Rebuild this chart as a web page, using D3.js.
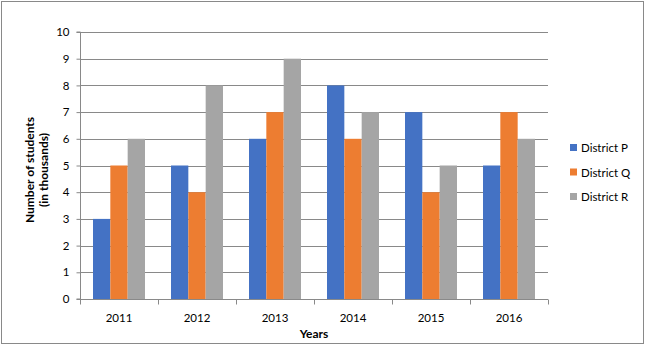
<!DOCTYPE html>
<html><head><meta charset="utf-8">
<script src="https://cdn.jsdelivr.net/npm/d3@7"></script>
<style>body{margin:0;background:#fff}svg{display:block}</style>
</head><body>
<script>
const years = ["2011","2012","2013","2014","2015","2016"];
const seriesNames = ["District P","District Q","District R"];
const districtP = [3,5,6,8,7,5];
const districtQ = [5,4,7,6,4,7];
const districtR = [6,8,9,7,5,6];
const yTicks = [0,1,2,3,4,5,6,7,8,9,10];
const colors = ["#4472C4","#ED7D31","#A5A5A5"];

const W=646,H=347;
const svg=d3.select("body").append("svg").attr("width",W).attr("height",H);
svg.append("rect").attr("x",1.5).attr("y",1.5).attr("width",W-4).attr("height",H-5)
  .attr("fill","#fff").attr("stroke","#898989").attr("stroke-width",1);

const pL=80,pR=548,pT=32,pB=299;
const x=d3.scaleBand().domain(years).range([pL,pR]);
const xi=d3.scaleBand().domain(seriesNames).range([0,x.bandwidth()]).paddingInner(0).paddingOuter(0.75);
const y=d3.scaleLinear().domain([0,10]).range([pB,pT]);
const font="Lato, 'Open Sans', sans-serif";

// gridlines
svg.append("g").selectAll("line").data(yTicks.filter(d=>d>0)).join("line")
  .attr("x1",pL).attr("x2",pR).attr("y1",d=>Math.round(y(d))+0.5).attr("y2",d=>Math.round(y(d))+0.5)
  .attr("stroke","#898989");

const data=[districtP,districtQ,districtR];
const g=svg.append("g");
years.forEach((yr,i)=>{
  seriesNames.forEach((s,j)=>{
    g.append("rect").attr("x",x(yr)+xi(s)).attr("width",xi.bandwidth())
      .attr("y",y(data[j][i])).attr("height",pB-y(data[j][i])).attr("fill",colors[j]);
  });
});

// y axis
const ya=svg.append("g").attr("transform",`translate(${pL+0.5},0)`)
  .call(d3.axisLeft(y).tickValues(yTicks).tickSize(4).tickPadding(7).tickFormat(d3.format("d")));
ya.select(".domain").attr("stroke","#898989").attr("d",`M-4,${pT}H0V${pB}H-4`);
ya.selectAll(".tick line").attr("stroke","#898989");
ya.selectAll("text").attr("font-family",font).attr("font-size",11.5).attr("fill","#000");

// x axis
const xa=svg.append("g").attr("transform",`translate(0,${pB+0.5})`);
xa.append("line").attr("x1",pL).attr("x2",pR).attr("stroke","#898989");
const bounds=years.map(d=>x(d)).concat([pR]);
xa.selectAll("line.t").data(bounds).join("line").attr("class","t")
  .attr("x1",d=>Math.round(d)+0.5).attr("x2",d=>Math.round(d)+0.5).attr("y1",0).attr("y2",5).attr("stroke","#898989");
xa.selectAll("text").data(years).join("text")
  .attr("x",d=>x(d)+x.bandwidth()/2).attr("y",22).attr("text-anchor","middle")
  .attr("font-family",font).attr("font-size",11.5).text(d=>d);

// axis titles
svg.append("text").attr("x",(pL+pR)/2).attr("y",338).attr("text-anchor","middle")
  .attr("font-family",font).attr("font-size",12).attr("font-weight","bold").text("Years");
const yt=svg.append("text").attr("transform",`translate(0,170) rotate(-90)`).attr("text-anchor","middle")
  .attr("font-family",font).attr("font-size",12).attr("font-weight","bold");
yt.append("tspan").attr("x",0).attr("y",34).text("Number of students");
yt.append("tspan").attr("x",0).attr("y",48).text("(in thousands)");

// legend
const lg=svg.append("g");
seriesNames.forEach((s,j)=>{
  const cy=148+j*24.5;
  lg.append("rect").attr("x",570).attr("y",cy-4).attr("width",7).attr("height",7).attr("fill",colors[j]);
  lg.append("text").attr("x",581).attr("y",cy+4).attr("font-family",font).attr("font-size",11.5).text(s);
});
</script>
</body></html>
